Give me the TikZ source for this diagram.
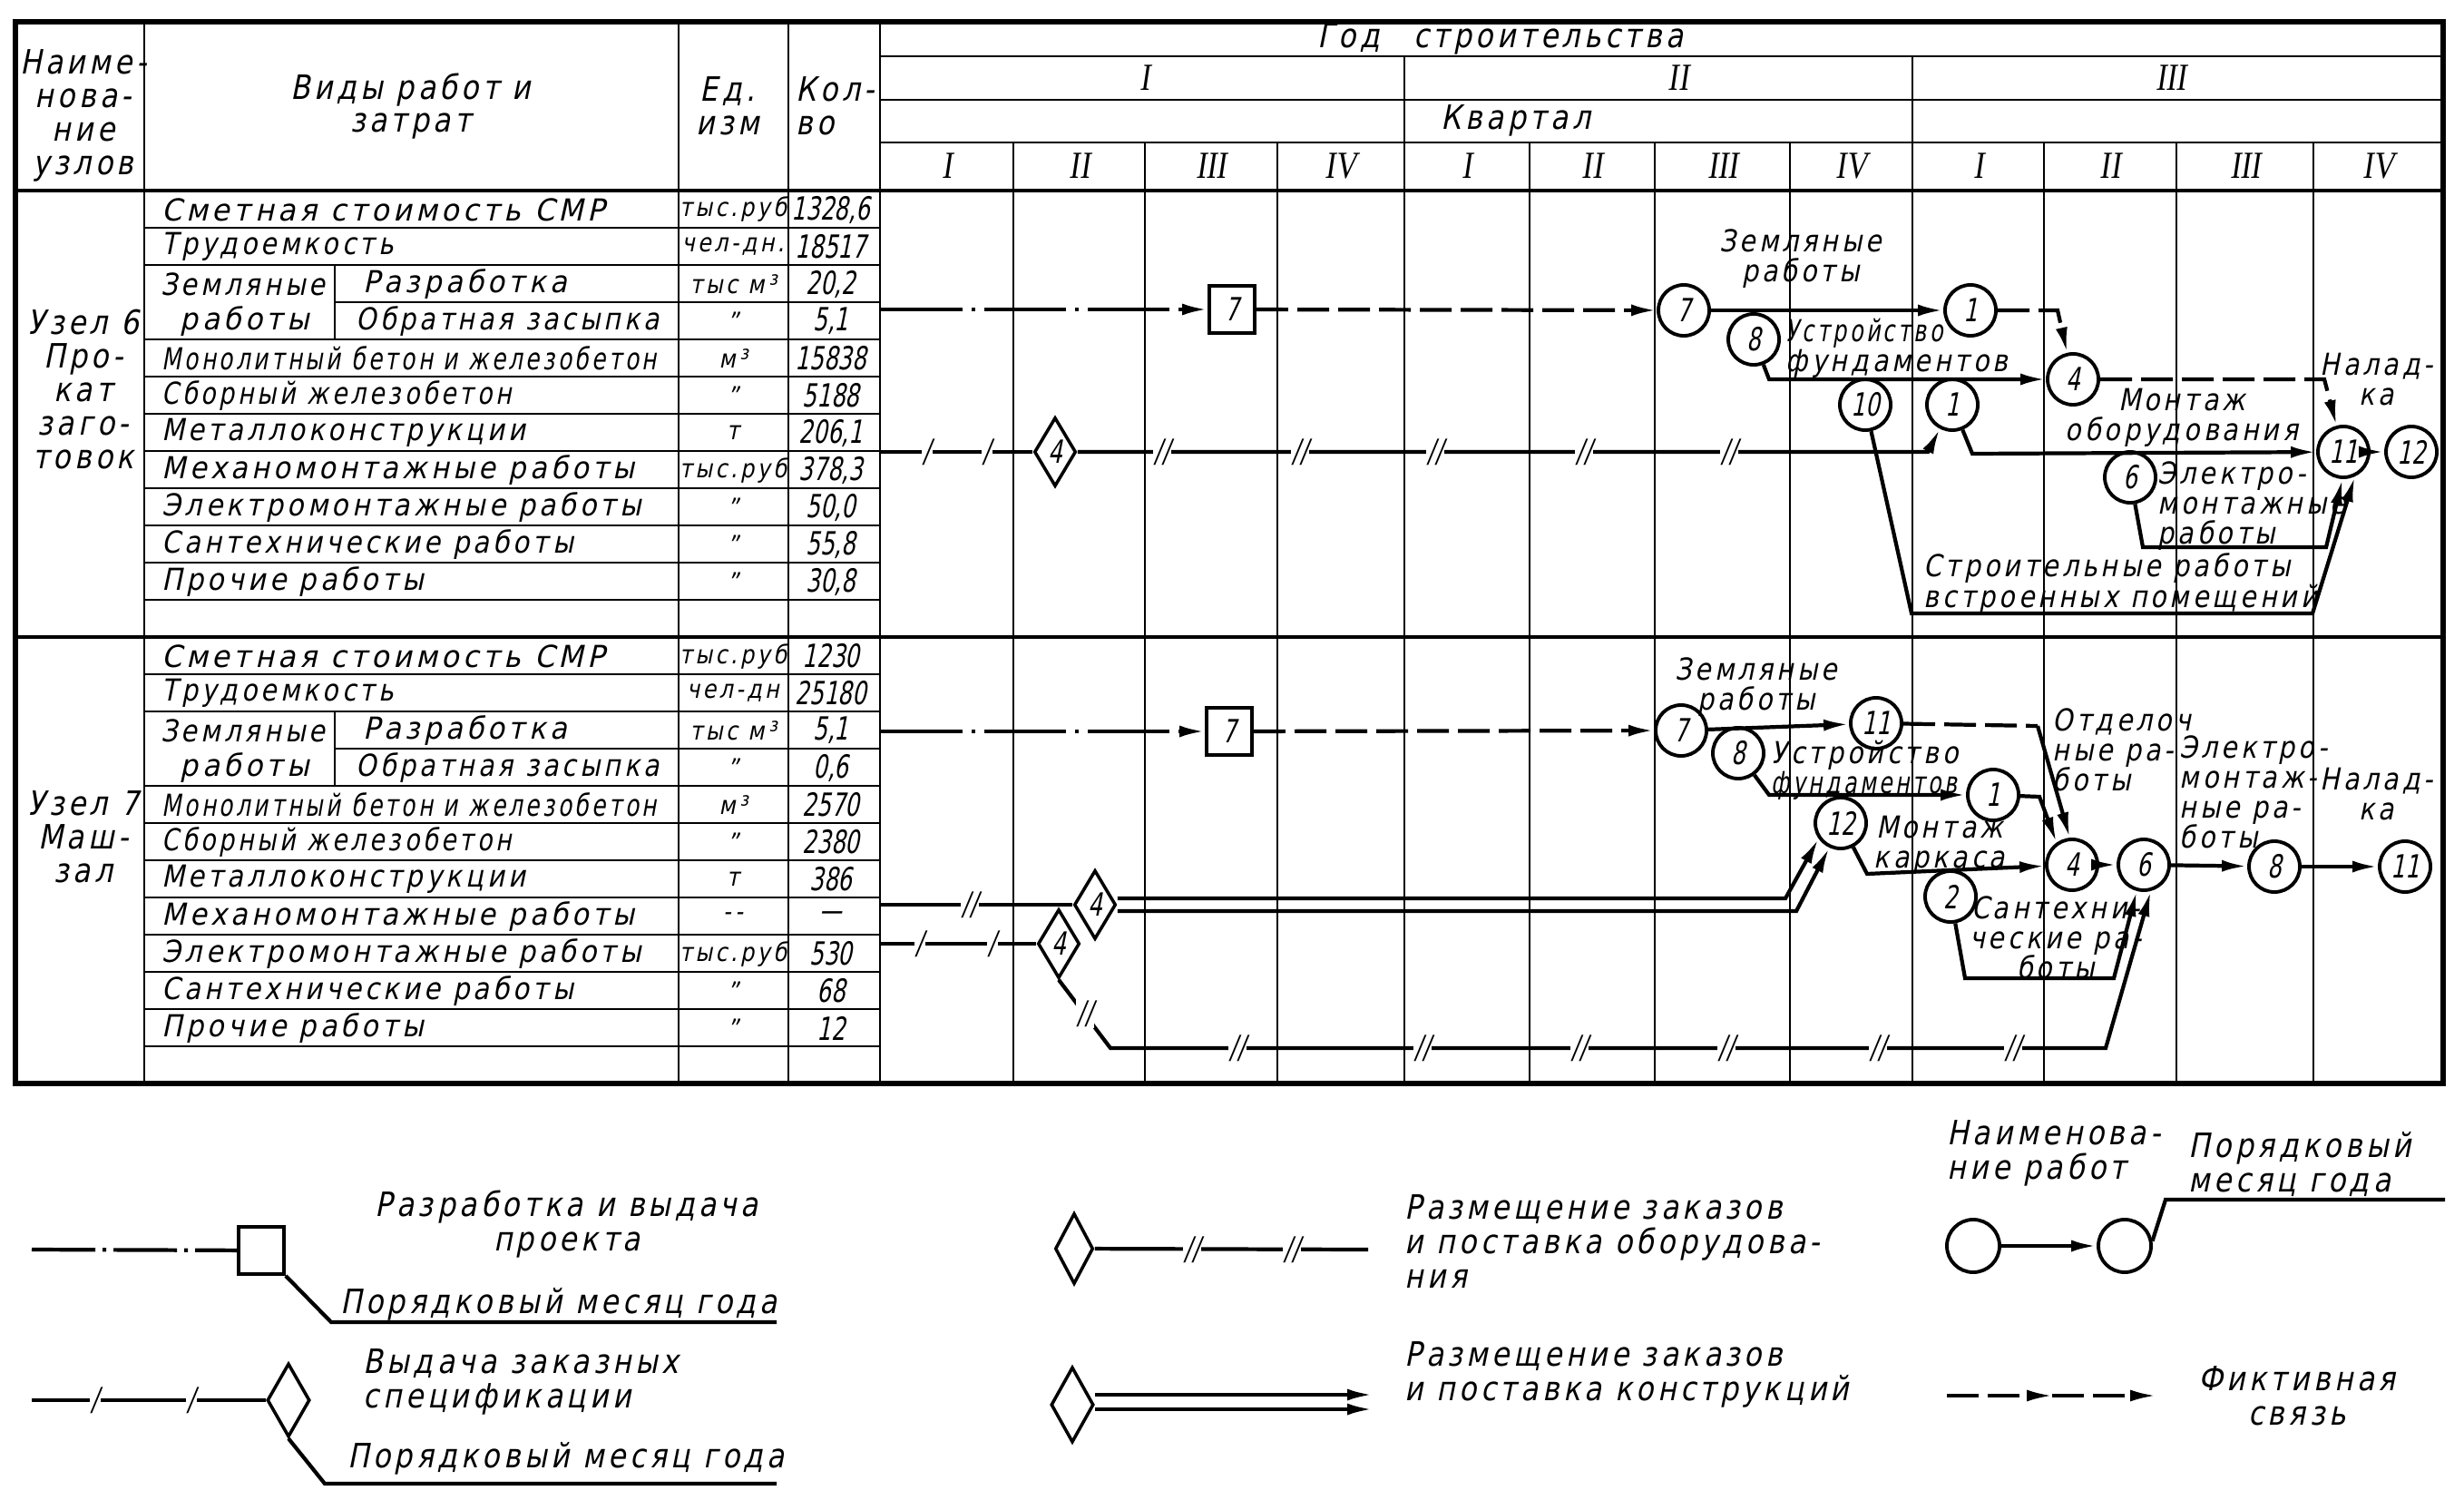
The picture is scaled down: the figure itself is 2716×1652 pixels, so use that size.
\documentclass[tikz,border=0pt]{standalone}
\usepackage{fontspec}
\usepackage{graphicx}
\setmainfont{DejaVu Sans}
\newfontfamily\gost{DejaVu Sans}[FakeSlant=0.2,FakeStretch=0.85,LetterSpace=12]
\newfontfamily\gostn{DejaVu Sans}[FakeSlant=0.2,FakeStretch=0.7]
\newfontfamily\rom{Liberation Serif}[FakeSlant=0.15,FakeStretch=0.8]
\usetikzlibrary{arrows.meta,shapes.geometric}

\begin{document}
\begin{tikzpicture}[
    x=0.01cm, y=-0.01cm,
    font=\gost\fontsize{9.5pt}{9.4pt}\selectfont,
    frame/.style={line width=1.6pt},
    grid/.style={line width=0.8pt},
    cell/.style={inner sep=0pt, anchor=west},
    unit/.style={inner sep=0pt, font=\gost\fontsize{8pt}{9pt}\selectfont},
    qty/.style={inner sep=0pt, font=\gostn\fontsize{10pt}{11pt}\selectfont},
    head/.style={inner sep=0pt, align=center, font=\gost\fontsize{10.5pt}{10.5pt}\selectfont},
    numr/.style={inner sep=0pt, font=\rom\fontsize{12pt}{12pt}\selectfont},
    lbl/.style={inner sep=0pt, align=center},
    leg/.style={inner sep=0pt, align=left, anchor=west, font=\gost\fontsize{10.5pt}{10.8pt}\selectfont},
    ev/.style={draw, circle, line width=1.1pt, fill=white, minimum size=0.56cm, inner sep=0pt,
               font=\gostn\fontsize{10pt}{11pt}\selectfont},
    pbox/.style={draw, line width=1.1pt, fill=white, minimum width=0.5cm, minimum height=0.52cm,
                 inner sep=0pt, font=\gostn\fontsize{10pt}{11pt}\selectfont},
    spec/.style={draw, diamond, line width=1pt, fill=white, minimum width=0.46cm, minimum height=0.76cm,
                 inner sep=0pt, font=\gostn\fontsize{10pt}{11pt}\selectfont},
    work/.style={line width=1.2pt, -{Latex[length=0.28cm,width=0.13cm]}},
    fict/.style={work, dash pattern=on 0.35cm off 0.1cm},
    proj/.style={work, dash pattern=on 0.9cm off 0.1cm on 0.04cm off 0.1cm},
    brk/.style={fill=white, inner sep=0.5pt, font=\gostn\fontsize{10pt}{11pt}\selectfont},
  ]
    \useasboundingbox (0,0) rectangle (2716,1652);

    % table
    \draw[frame] (17,24) rectangle (2693,1194);
    \draw[line width=1.4pt] (17,210) -- (2693,210) (17,702) -- (2693,702);
    \foreach \x in {159,748,869,970}
      \draw[grid] (\x,24) -- (\x,1194);
    \draw[grid] (970,62) -- (2693,62) (970,110) -- (2693,110) (970,157) -- (2693,157);
    \foreach \x in {1548,2108}
      \draw[grid] (\x,62) -- (\x,1194);
    \foreach \x in {1117,1262,1408,1686,1824,1973,2253,2399,2550}
      \draw[grid] (\x,157) -- (\x,1194);
    \foreach \y in {210,702} {
      \foreach \r in {1,2,4,5,...,11}
        \draw[grid] (159,{\y+41*\r}) -- (970,{\y+41*\r});
      \draw[grid] (369,{\y+123}) -- (970,{\y+123});
      \draw[grid] (369,{\y+82}) -- (369,{\y+164});
    }

    \node[head] (hn) at (92,127) {Наиме-\\нова-\\ние\\узлов};
    \node[head] (hw) at (453,117) {Виды работ и\\затрат};
    \node[head] (hu) at (802,117) {Ед.\\изм};
    \node[head, align=left, anchor=west] (hk) at (877,117) {Кол-\\во};
    \node[head] (hy) at (1654,43) {Год\quad строительства};
    \node[head] (hq) at (1671,133) {Квартал};
    \foreach \x/\t [count=\i] in {1262/I,1850/II,2393/III}
      \node[numr] (y\i) at (\x,86) {\t};
    \foreach \x/\t [count=\i] in {1044/I,1190/II,1335/III,1478/IV,1617/I,1755/II,
                                  1899/III,2041/IV,2181/I,2326/II,2475/III,2622/IV}
      \node[numr] (q\i) at (\x,183) {\t};

    \node[head] (n6) at (92,429) {Узел 6\\Про-\\кат\\заго-\\товок};
    \node[head] (n7) at (92,922) {Узел 7\\Маш-\\зал};

    \foreach \s/\y in {6/210,7/702} {
      \foreach \r/\w/\t in {0/4.88/{Сметная стоимость СМР}, 1/2.55/Трудоемкость,
                            4/5.45/{Монолитный бетон и железобетон}, 5/3.85/{Сборный железобетон},
                            6/4.0/Металлоконструкции, 7/5.2/{Механомонтажные работы},
                            8/5.28/{Электромонтажные работы}, 9/4.53/{Сантехнические работы},
                            10/2.88/{Прочие работы}}
        \node[cell] (w\s-\r) at (178,{\y+41*\r+21}) {\resizebox{\w cm}{\height}{\t}};
      \node[lbl] (w\s-2) at (268,{\y+103}) {\resizebox{1.81cm}{\height}{Земляные}};
      \node[lbl] (w\s-3) at (270,{\y+144}) {\resizebox{1.42cm}{\height}{работы}};
      \node[cell] (w\s-2b) at (400,{\y+103}) {\resizebox{2.24cm}{\height}{Разработка}};
      \node[cell] (w\s-3b) at (392,{\y+144}) {\resizebox{3.34cm}{\height}{Обратная засыпка}};
    }
    \foreach \r/\u/\q in {0/тыс.руб/{1328,6}, 1/чел-дн./18517, 2/тыс м³/{20,2}, 3/”/{5,1},
                          4/м³/15838, 5/”/5188, 6/т/{206,1}, 7/тыс.руб/{378,3},
                          8/”/{50,0}, 9/”/{55,8}, 10/”/{30,8}} {
      \node[unit] (u6-\r) at (808,{231+41*\r}) {\u};
      \node[qty] (k6-\r) at (916,{231+41*\r}) {\q};
    }
    \foreach \r/\u/\q in {0/тыс.руб/1230, 1/чел-дн/25180, 2/тыс м³/{5,1}, 3/”/{0,6},
                          4/м³/2570, 5/”/2380, 6/т/386, 7/{-\,-}/—,
                          8/тыс.руб/530, 9/”/68, 10/”/12} {
      \node[unit] (u7-\r) at (808,{723+41*\r}) {\u};
      \node[qty] (k7-\r) at (916,{723+41*\r}) {\q};
    }

    % Узел 6
    \node[pbox] (p6) at (1358,341) {7};
    \node[spec] (s6) at (1163,498) {4};
    \node[ev] (e6a) at (1856,342) {7};
    \node[ev] (e6b) at (2172,342) {1};
    \node[ev] (e6c) at (1933,374) {8};
    \node[ev] (e6d) at (2285,418) {4};
    \node[ev] (e6e) at (2056,446) {10};
    \node[ev] (e6f) at (2152,446) {1};
    \node[ev] (e6g) at (2348,526) {6};
    \node[ev] (e6h) at (2583,498) {11};
    \node[ev] (e6i) at (2658,498) {12};
    \coordinate (o6p) at (971,341);
    \coordinate (o6s) at (971,498);

    \draw[proj] (o6p) -- (p6);
    \draw[fict] (p6) -- (e6a);
    \draw[work] (e6a) -- (e6b);
    \draw[work] (e6c) -- (1950,418) -- (e6d);
    \draw[fict] (e6b) -- (2268,342) -- (e6d);
    \draw[fict] (e6d) -- (2562,418) -- (e6h);
    \draw[work] (e6e) -- (2107,676) -- (2549,676) -- (e6h.295);
    \draw[work] (e6g) -- (2362,603) -- (2564,603) -- (e6h.268);
    \draw[work,-] (o6s) -- (s6);
    \draw[work] (s6) -- (2125,498) -- (e6f);
    \draw[work] (e6f) -- (2174,500) -- (e6h);
    \draw[work] (e6h) -- (e6i);
    \foreach \x [count=\i] in {1022,1088}
      \node[brk] (a6-\i) at (\x,498) {/};
    \foreach \x [count=\i] in {1281,1433,1582,1746,1906}
      \node[brk] (b6-\i) at (\x,498) {//};

    \node[lbl] (t6a) at (1985,285) {Земляные\\работы};
    \node[lbl, align=left, anchor=west] (t6b) at (1968,384)
      {\resizebox{1.73cm}{\height}{Устройство}\\фундаментов};
    \node[lbl] (t6c) at (2405,460) {Монтаж\\оборудования};
    \node[lbl] (t6d) at (2620,418) {Налад-\\ка};
    \node[lbl, align=left, anchor=west] (t6e) at (2378,558) {Электро-\\монтажные\\работы};
    \node[lbl, align=left, anchor=west] (t6f) at (2120,643) {Строительные работы\\встроенных помещений};

    % Узел 7
    \node[pbox] (p7) at (1355,806) {7};
    \node[spec] (s7a) at (1207,997) {4};
    \node[spec] (s7b) at (1167,1040) {4};
    \node[ev] (e7a) at (1853,805) {7};
    \node[ev] (e7b) at (2068,797) {11};
    \node[ev] (e7c) at (1916,830) {8};
    \node[ev] (e7d) at (2197,876) {1};
    \node[ev] (e7e) at (2029,907) {12};
    \node[ev] (e7f) at (2284,953) {4};
    \node[ev] (e7g) at (2363,953) {6};
    \node[ev] (e7h) at (2150,988) {2};
    \node[ev] (e7i) at (2507,955) {8};
    \node[ev] (e7j) at (2651,955) {11};
    \coordinate (o7p) at (971,806);
    \coordinate (o7a) at (971,997);
    \coordinate (o7b) at (971,1040);
    \coordinate (q7) at (2246,800);

    \draw[proj] (o7p) -- (p7);
    \draw[fict] (p7) -- (e7a);
    \draw[work] (e7a) -- (e7b);
    \draw[work] (e7c) -- (1950,876) -- (e7d);
    \draw[fict,-] (e7b) -- (q7);
    \draw[work] (q7) -- (e7f.95);
    \draw[work] (e7d) -- (2248,878) -- (e7f.125);
    \draw[work] (e7e) -- (2058,963) -- (e7f);
    \draw[work] (e7f) -- (e7g);
    \draw[work] (e7h) -- (2166,1078) -- (2330,1078) -- (e7g.255);
    \draw[work] (e7g) -- (e7i);
    \draw[work] (e7i) -- (e7j);
    \draw[work,-] (o7a) -- (s7a);
    \draw[work] ([yshift=0.07cm]s7a.east) -- (1968,990) -- (e7e.215);
    \draw[work] ([yshift=-0.07cm]s7a.east) -- (1980,1004) -- (e7e.245);
    \draw[work,-] (o7b) -- (s7b);
    \draw[work] (s7b.south) -- (1224,1155) -- (2321,1155) -- (e7g.285);
    \node[brk] (b7-0) at (1069,997) {//};
    \foreach \x [count=\i] in {1014,1094}
      \node[brk] (a7-\i) at (\x,1040) {/};
    \node[brk] (c7-0) at (1196,1117) {//};
    \foreach \x [count=\i] in {1364,1568,1741,1903,2070,2219}
      \node[brk] (c7-\i) at (\x,1155) {//};

    \node[lbl] (t7a) at (1936,757) {Земляные\\работы};
    \node[lbl, align=left, anchor=west] (t7b) at (1952,849)
      {Устройство\\\resizebox{2.05cm}{\height}{фундаментов}};
    \node[lbl] (t7c) at (2138,931) {Монтаж\\каркаса};
    \node[lbl, align=left, anchor=west] (t7d) at (2262,826) {Отделоч\\ные ра-\\боты};
    \node[lbl] (t7e) at (2266,1033) {Сантехни-\\ческие ра-\\боты};
    \node[lbl, align=left, anchor=west] (t7f) at (2402,873) {Электро-\\монтаж-\\ные ра-\\боты};
    \node[lbl] (t7g) at (2620,875) {Налад-\\ка};

    % legend
    \node[pbox] (lb1) at (288,1378) {};
    \coordinate (l1s) at (35,1377);
    \coordinate (l1e) at (856,1457);
    \draw[proj,-, dash pattern=on 0.7cm off 0.08cm on 0.04cm off 0.08cm] (l1s) -- (lb1);
    \draw[work,-] (lb1.south east) -- (365,1457) -- (l1e);
    \node[leg, align=center, anchor=center] (lt1) at (625,1349) {Разработка и выдача\\проекта};
    \node[leg, anchor=center] (lt2) at (616,1437) {Порядковый месяц года};

    \node[spec, minimum height=0.81cm, minimum width=0.47cm] (ld2) at (318,1543) {};
    \coordinate (l2s) at (35,1543);
    \coordinate (l2e) at (856,1635);
    \draw[work,-] (l2s) -- (ld2);
    \draw[work,-] (ld2.south) -- (358,1635) -- (l2e);
    \foreach \x [count=\i] in {105,211}
      \node[brk] (a2-\i) at (\x,1543) {/};
    \node[leg] (lt3) at (400,1523) {Выдача заказных\\спецификации};
    \node[leg, anchor=center] (lt4) at (624,1607) {Порядковый месяц года};

    \node[spec, minimum height=0.78cm, minimum width=0.42cm] (ld3) at (1184,1376) {};
    \coordinate (l3e) at (1508,1377);
    \draw[work,-] (ld3) -- (l3e);
    \foreach \x [count=\i] in {1314,1424}
      \node[brk] (b3-\i) at (\x,1377) {//};
    \node[leg] (lt5) at (1548,1368) {Размещение заказов\\и поставка оборудова-\\ния};

    \node[spec, minimum height=0.83cm, minimum width=0.47cm] (ld4) at (1182,1548) {};
    \coordinate (l4a) at (1513,1537);
    \coordinate (l4b) at (1513,1553);
    \draw[work] (ld4.east |- l4a) -- (l4a);
    \draw[work] (ld4.east |- l4b) -- (l4b);
    \node[leg] (lt6) at (1548,1515) {Размещение заказов\\и поставка конструкций};

    \node[ev, minimum size=0.58cm] (lc1) at (2175,1373) {};
    \node[ev, minimum size=0.58cm] (lc2) at (2342,1373) {};
    \coordinate (l5e) at (2695,1322);
    \draw[work] (lc1) -- (lc2);
    \draw[work,-] (lc2.10) -- (2387,1322) -- (l5e);
    \node[leg] (lt7) at (2146,1271) {Наименова-\\ние работ};
    \node[leg] (lt8) at (2412,1283) {Порядковый\\месяц года};

    \coordinate (l6s) at (2146,1538);
    \coordinate (l6m) at (2262,1538);
    \coordinate (l6e) at (2376,1538);
    \draw[fict, line width=1pt] (l6s) -- (l6m);
    \draw[fict, line width=1pt] (l6m) -- (l6e);
    \node[leg, align=center, anchor=center] (lt9) at (2532,1538) {Фиктивная\\связь};
  \end{tikzpicture}
\end{document}
